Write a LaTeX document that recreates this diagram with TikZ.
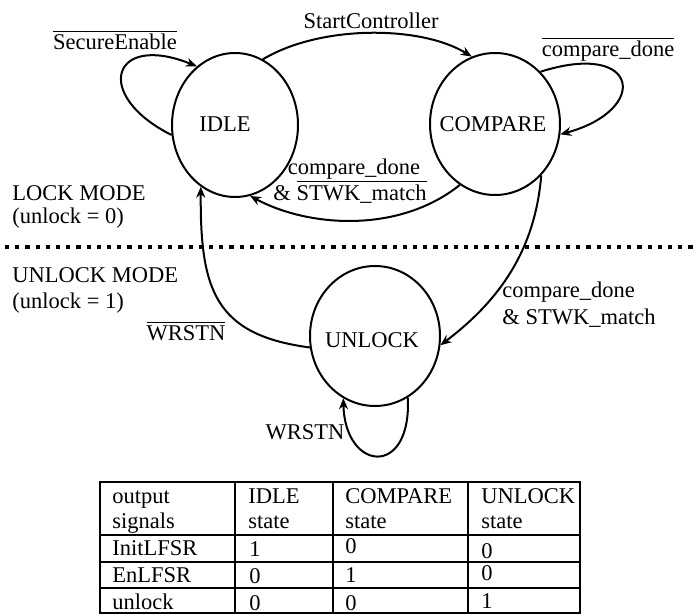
\documentclass[tikz,border=0pt]{standalone}
\usepackage{fontspec}
\setmainfont{Liberation Serif}
\usetikzlibrary{shapes.geometric,arrows.meta}
\begin{document}
\begin{tikzpicture}[x=0.5pt,y=-0.5pt,
  every node/.style={font=\fontsize{11.25}{13}\selectfont, inner sep=0pt},
  state/.style={draw, ellipse, line width=1pt, inner sep=0pt},
  edge/.style={draw, line width=1pt, -{Stealth[length=5.5pt,width=4.5pt]}},
  txt/.style={anchor=base},
  txtw/.style={anchor=base west},
  tline/.style={line width=0.8pt}]
\useasboundingbox (0,0) rectangle (697,615);

% states
\node[state, minimum width=63pt, minimum height=72pt] (I) at (235,125) {};
\node[state, minimum width=65pt, minimum height=71pt] (C) at (495,124) {};
\node[state, minimum width=65pt, minimum height=70pt] (U) at (375,336) {};
\node[txt] (It) at (225,132) {IDLE};
\node[txt] (Ct) at (493,132) {COMPARE};
\node[txt] (Ut) at (372,347) {UNLOCK};

% mode separator
\coordinate (dl) at (0,247);
\coordinate (dr) at (697,247);
\draw[line width=2.1pt, dash pattern=on 2.1pt off 3pt, dash phase=-2.5pt] (dl) -- (dr);

% mode labels
\node[txtw] (lm1) at (12,200) {LOCK MODE};
\node[txtw] (lm2) at (12,224) {(unlock = 0)};
\node[txtw] (um1) at (12,283) {UNLOCK MODE};
\node[txtw] (um2) at (12,308) {(unlock = 1)};

% transitions
\draw[edge] (I.189) .. controls (92,95) and (112,32) .. (I.123);
\node[txt] (secl) at (115,50) {$\overline{\mbox{SecureEnable}}$};

\draw[edge] (I.67) .. controls (320,25) and (420,25) .. (C.109);
\node[txt] (scl) at (371,29) {StartController};

\draw[edge] (C.49) .. controls (640,40) and (650,110) .. (C.351);
\node[txt] (cdl) at (608,57) {$\overline{\mbox{compare\_done}}$};

\draw[edge] (C.240) .. controls (400,233) and (310,228) .. (I.282);
\node[txt] (cil1) at (354,175) {compare\_done};
\node[txt] (cil2) at (350,200) {\& $\overline{\mbox{STWK\_match}}$};

\draw[edge] (C.312) .. controls (535,250) and (500,300) .. (U.352);
\node[txtw] (cul1) at (502,298) {compare\_done};
\node[txtw] (cul2) at (502,324) {\& STWK\_match};

\draw[edge] (U.190) .. controls (215,335) and (200,290) .. (I.241);
\node[txt] (wrl) at (186,340) {$\overline{\mbox{WRSTN}}$};

\draw[edge] (U.298) .. controls (412,478) and (345,472) .. (U.243);
\node[txt] (wsl) at (305,439) {WRSTN};

% table
\draw[tline] (100,482) rectangle (580,613);
\foreach \xx in {235,333,468} \draw[tline] (\xx,482) -- (\xx,613);
\foreach \yy in {535,562,588} \draw[tline] (100,\yy) -- (580,\yy);

\node[txtw] (h1a) at (112,503) {output};
\node[txtw] (h1b) at (112,528) {signals};
\node[txtw] (h2a) at (248,503) {IDLE};
\node[txtw] (h2b) at (248,528) {state};
\node[txtw] (h3a) at (345,503) {COMPARE};
\node[txtw] (h3b) at (345,528) {state};
\node[txtw] (h4a) at (481,503) {UNLOCK};
\node[txtw] (h4b) at (481,528) {state};

\node[txtw] (r1) at (112,555) {InitLFSR};
\node[txtw] (r1a) at (249,556) {1};
\node[txtw] (r1b) at (345,553) {0};
\node[txtw] (r1c) at (481,558) {0};

\node[txtw] (r2) at (112,582) {EnLFSR};
\node[txtw] (r2a) at (249,583) {0};
\node[txtw] (r2b) at (345,582) {1};
\node[txtw] (r2c) at (481,580) {0};

\node[txtw] (r3) at (112,609) {unlock};
\node[txtw] (r3a) at (249,610) {0};
\node[txtw] (r3b) at (345,610) {0};
\node[txtw] (r3c) at (481,608) {1};
\end{tikzpicture}
\end{document}
